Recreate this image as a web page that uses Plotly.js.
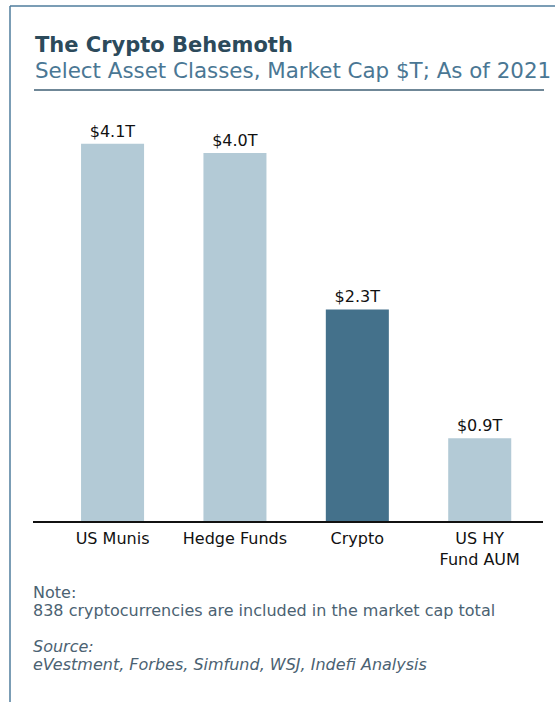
<!DOCTYPE html>
<html>
<head>
<meta charset="utf-8">
<script src="https://cdn.plot.ly/plotly-3.0.1.min.js"></script>
<style>html,body{margin:0;padding:0;background:#fff;}#chart{width:555px;height:702px;}</style>
</head>
<body>
<div id="chart"></div>
<script>
const categories = ["US Munis", "Hedge Funds", "Crypto", "US HY<br>Fund AUM"];
const values = [4.1, 4.0, 2.3, 0.9];
const valueLabels = ["$4.1T", "$4.0T", "$2.3T", "$0.9T"];
const barColors = ["#b3cad6", "#b3cad6", "#44718b", "#b3cad6"];

const FONT = "DejaVu Sans, Verdana, sans-serif";
const L = 33, R = 543, T = 100, B = 521, W = 555, H = 702;
const px = x => (x - L) / (R - L);
const py = y => (B - y) / (B - T);

const trace = {
  type: "bar",
  x: [0, 1, 2, 3],
  y: values,
  width: 0.515,
  marker: {color: barColors},
  text: valueLabels,
  textposition: "outside",
  textfont: {family: FONT, size: 16, color: "#111"},
  cliponaxis: false,
  hoverinfo: "none"
};

const note = (text, y, italic) => ({
  xref: "paper", yref: "paper", x: px(31), y: py(y), xanchor: "left", yanchor: "middle",
  showarrow: false, text: italic ? "<i>" + text + "</i>" : text,
  font: {family: FONT, size: 16, color: "#4b6272"}
});

const layout = {
  width: W, height: H,
  margin: {l: L, r: W - R, t: T, b: H - B, pad: 0},
  paper_bgcolor: "#fff", plot_bgcolor: "#fff",
  showlegend: false,
  xaxis: {
    tickmode: "array", tickvals: [0, 1, 2, 3], ticktext: categories,
    range: [-0.65, 3.517], showgrid: false, zeroline: false,
    showline: true, linecolor: "#111", linewidth: 1.5, ticks: "",
    ticklabelstandoff: 2,
    tickfont: {family: FONT, size: 16, color: "#111"}, fixedrange: true
  },
  yaxis: {range: [0, 4.576], visible: false, fixedrange: true},
  shapes: [
    {type: "line", xref: "paper", yref: "paper", x0: px(10), x1: px(10), y0: py(6), y1: py(710), line: {color: "#4f7d9c", width: 1.5}},
    {type: "line", xref: "paper", yref: "paper", x0: px(10), x1: px(570), y0: py(6), y1: py(6), line: {color: "#4f7d9c", width: 1.5}},
    {type: "line", xref: "paper", yref: "paper", x0: px(34), x1: px(544), y0: py(90), y1: py(90), line: {color: "#6f8797", width: 2}}
  ],
  annotations: [
    {xref: "paper", yref: "paper", x: px(33), y: py(45), xanchor: "left", yanchor: "middle", showarrow: false,
     text: "<b>The Crypto Behemoth</b>", font: {family: FONT, size: 21, color: "#2c4a5b"}},
    {xref: "paper", yref: "paper", x: px(33), y: py(70), xanchor: "left", yanchor: "middle", showarrow: false,
     text: "Select Asset Classes, Market Cap $T; As of 2021", font: {family: FONT, size: 21.4, color: "#4a7794"}},
    note("Note:", 592, false),
    note("838 cryptocurrencies are included in the market cap total", 610, false),
    note("Source:", 646, true),
    note("eVestment, Forbes, Simfund, WSJ, Indefi Analysis", 664, true)
  ]
};

Plotly.newPlot("chart", [trace], layout, {displayModeBar: false, staticPlot: true});
</script>
</body>
</html>
